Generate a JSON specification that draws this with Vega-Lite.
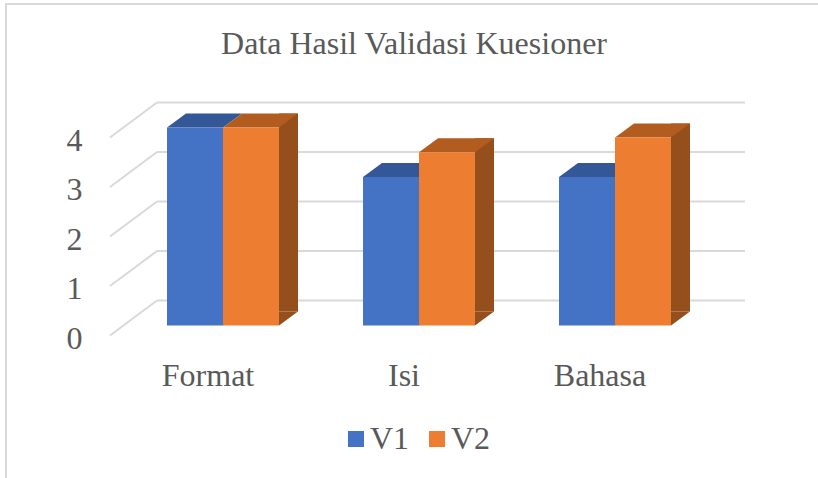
{
"$schema":"https://vega.github.io/schema/vega-lite/v6.json",
"width":820,"height":480,
"autosize":"none",
"padding":{"left":6,"top":4,"right":0,"bottom":0},
"background":"white",
"config":{"view":{"stroke":"#D9D9D9","strokeWidth":2,"fill":"white"},"font":"Liberation Serif"},
"title":{"text":"Data Hasil Validasi Kuesioner","font":"Liberation Serif","fontSize":32,"fontWeight":"normal","color":"#595959","anchor":"middle","frame":"group","baseline":"alphabetic","offset":0,"dy":82,"dx":-2},
"datasets":{
"bars":[
{"kategori":"Format","seri":"V1","nilai":4},
{"kategori":"Format","seri":"V2","nilai":4},
{"kategori":"Isi","seri":"V1","nilai":3},
{"kategori":"Isi","seri":"V2","nilai":3.5},
{"kategori":"Bahasa","seri":"V1","nilai":3},
{"kategori":"Bahasa","seri":"V2","nilai":3.8}],
"ticks":[{"t":0},{"t":1},{"t":2},{"t":3},{"t":4}]},
"resolve":{"scale":{"x":"independent","color":"independent"},"axis":{"x":"independent"}},
"layer":[
{"data":{"name":"ticks"},
"layer":[
{"mark":{"type":"rule","color":"#D9D9D9","strokeWidth":2,"yOffset":-25,"y2Offset":-25},
"encoding":{"x":{"datum":0,"type":"quantitative","scale":{"domain":[0,1],"range":[151,739]},"axis":null},"x2":{"datum":1},
"y":{"field":"t","type":"quantitative","scale":{"domain":[0,4],"range":[321.5,123.5],"nice":false,"zero":false},"axis":{"title":null,"ticks":false,"domain":false,"grid":false,"values":[0,1,2,3,4],"format":"d","labelFontSize":32,"labelFont":"Liberation Serif","labelColor":"#595959","labelPadding":0,"offset":-76,"labelOffset":12.5}},"y2":{"field":"t"}}},
{"mark":{"type":"rule","color":"#D9D9D9","strokeWidth":2,"xOffset":-47,"yOffset":10,"y2Offset":-25},
"encoding":{"x":{"datum":0,"type":"quantitative","scale":{"domain":[0,1],"range":[151,739]},"axis":null},"x2":{"datum":0},
"y":{"field":"t","type":"quantitative"},"y2":{"field":"t"}}}
]},
{"data":{"name":"bars"},
"encoding":{
"x":{"field":"kategori","type":"nominal","sort":["Format","Isi","Bahasa"],"scale":{"range":[119,707],"paddingInner":0.42857,"paddingOuter":0.21429},"axis":{"title":null,"labelAngle":0,"ticks":false,"domain":false,"labelFontSize":32,"labelFont":"Liberation Serif","labelColor":"#595959","labelBaseline":"alphabetic","labelPadding":0,"offset":-99,"labelOffset":-15,"labelFlush":false}}},
"resolve":{"scale":{"color":"independent"}},
"layer":[
{"transform":[{"filter":"datum.seri === 'V2'"}],
"mark":{"type":"bar","size":19,"xOffset":65.5,"yOffset":-14,"y2Offset":-14},
"encoding":{"y":{"field":"nilai","type":"quantitative","stack":null},"y2":{"datum":0},
"color":{"field":"seri","type":"nominal","scale":{"domain":["V1","V2"],"range":["#2F5597","#954F1C"]},"legend":null}}},
{"mark":{"type":"point","filled":true,"opacity":1,"size":4,"strokeWidth":0,"shape":"M28 -14 L47 -14 L28 0 Z"},
"encoding":{"xOffset":{"field":"seri","type":"nominal","sort":["V1","V2"]},"y":{"datum":0,"type":"quantitative"},
"color":{"field":"seri","type":"nominal","scale":{"domain":["V1","V2"],"range":["#2F5597","#954F1C"]},"legend":null}}},
{"mark":{"type":"point","filled":true,"opacity":1,"size":4,"strokeWidth":0,"shape":"M-28 0 L28 0 L47 -14 L-9 -14 Z"},
"encoding":{"xOffset":{"field":"seri","type":"nominal","sort":["V1","V2"]},"y":{"field":"nilai","type":"quantitative"},
"color":{"field":"seri","type":"nominal","scale":{"domain":["V1","V2"],"range":["#335797","#B35C20"]},"legend":null}}},
{"mark":{"type":"bar"},
"encoding":{"xOffset":{"field":"seri","type":"nominal","sort":["V1","V2"]},"y":{"field":"nilai","type":"quantitative"},
"color":{"field":"seri","type":"nominal","scale":{"domain":["V1","V2"],"range":["#4472C4","#ED7D31"]},
"legend":{"title":null,"orient":"none","legendX":334,"legendY":419,"direction":"horizontal","symbolType":"square","symbolSize":256,"symbolStrokeWidth":0,"labelFontSize":32,"labelFont":"Liberation Serif","labelColor":"#595959","labelOffset":-2,"columnPadding":11}}}}
]}
]
}
